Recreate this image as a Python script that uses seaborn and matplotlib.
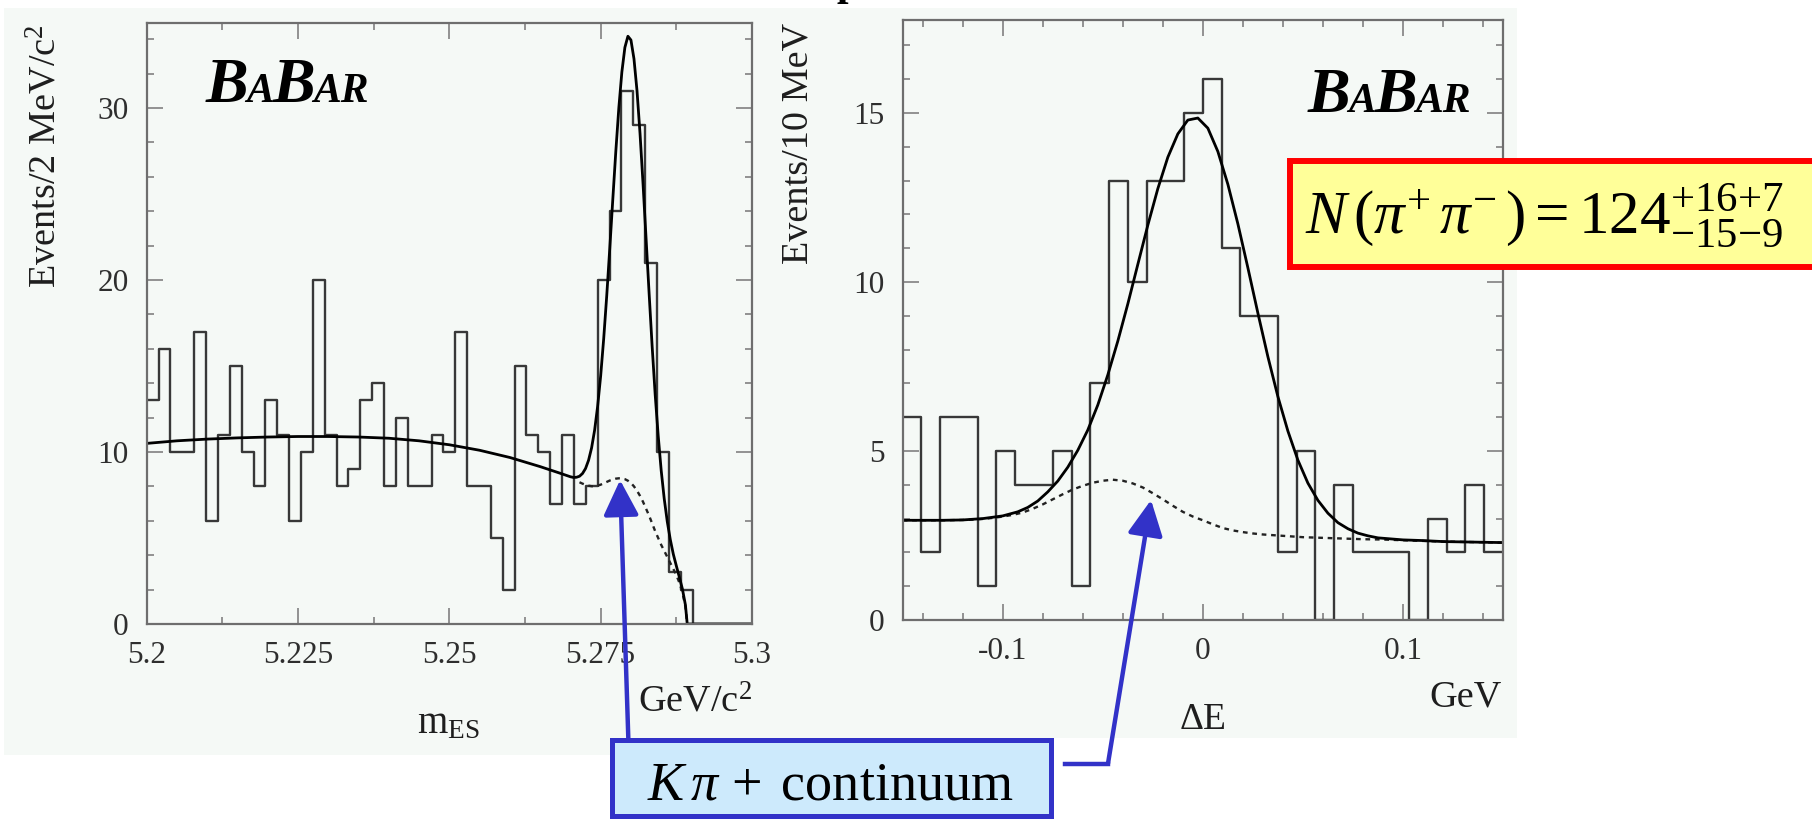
import numpy as np
import pandas as pd
import matplotlib
matplotlib.use("Agg")
import matplotlib.pyplot as plt
import seaborn as sns
from matplotlib.patches import Rectangle, FancyArrowPatch
from matplotlib.lines import Line2D
from matplotlib.ticker import FixedLocator, FixedFormatter, MultipleLocator

sns.set_theme(style="ticks")
plt.rcParams["font.family"] = ["Liberation Serif", "DejaVu Serif"]
plt.rcParams["mathtext.fontset"] = "custom"
plt.rcParams["mathtext.rm"] = "Liberation Serif"
plt.rcParams["mathtext.it"] = "Liberation Serif:italic"
plt.rcParams["mathtext.bf"] = "Liberation Serif:bold"

# ---------------- data ----------------
mes_range = [5.2, 5.3]
mes_counts = [13, 16, 10, 10, 17, 6, 11, 15, 10, 8,
              13, 11, 6, 10, 20, 11, 8, 9, 13, 14,
              8, 12, 8, 8, 11, 10, 17, 8, 8, 5,
              2, 15, 11, 10, 7, 11, 7, 8, 20, 24,
              31, 29, 21, 10, 3, 2, 0, 0, 0, 0, 0]
mes_fit_x = [5.200, 5.205, 5.210, 5.215, 5.220, 5.225, 5.230, 5.235, 5.240, 5.245,
             5.250, 5.255, 5.260, 5.265, 5.268, 5.2700, 5.2705, 5.2710, 5.2715, 5.2720,
             5.2725, 5.2730, 5.2735, 5.2740, 5.2745, 5.2750, 5.2755, 5.2760, 5.2765, 5.2770,
             5.2775, 5.2780, 5.2785, 5.2790, 5.2795, 5.2800, 5.2805, 5.2810, 5.2815, 5.2820,
             5.2825, 5.2830, 5.2835, 5.2840, 5.2845, 5.2850, 5.2855, 5.2860, 5.2865, 5.2870,
             5.2875, 5.2880, 5.2885, 5.2890, 5.2893, 5.3000]
mes_fit_y = [10.5, 10.65, 10.75, 10.82, 10.87, 10.9, 10.9, 10.87, 10.8, 10.65,
             10.42, 10.1, 9.68, 9.15, 8.8, 8.56, 8.52, 8.53, 8.59, 8.75,
             9.04, 9.52, 10.24, 11.27, 12.66, 14.43, 16.59, 19.08, 21.82, 24.67,
             27.47, 30.01, 32.09, 33.52, 34.17, 33.95, 32.86, 31.01, 28.52, 25.58,
             22.41, 19.24, 16.16, 13.36, 10.96, 8.92, 7.28, 5.96, 4.91, 4.06,
             3.38, 2.72, 2.04, 1.11, 0.0, 0.0]
mes_bkg_x = [5.2715, 5.2720, 5.2725, 5.2730, 5.2735, 5.2740, 5.2745, 5.2750, 5.2755, 5.2760,
             5.2765, 5.2770, 5.2775, 5.2780, 5.2785, 5.2790, 5.2795, 5.2800, 5.2805, 5.2810,
             5.2815, 5.2820, 5.2825, 5.2830, 5.2835, 5.2840, 5.2845, 5.2850, 5.2855, 5.2860,
             5.2865, 5.2870, 5.2875, 5.2880, 5.2885, 5.2890, 5.2893]
mes_bkg_y = [8.24, 8.16, 8.09, 8.04, 8.01, 8.01, 8.04, 8.1, 8.18, 8.26,
             8.34, 8.4, 8.45, 8.47, 8.46, 8.42, 8.33, 8.2, 8.0, 7.75,
             7.45, 7.1, 6.7, 6.3, 5.85, 5.4, 5.0, 4.6, 4.25, 3.9,
             3.55, 3.2, 2.85, 2.4, 1.85, 1.0, 0.0]
mes_ticks = [5.2, 5.225, 5.25, 5.275, 5.3]
mes_ticklabels = ["5.2", "5.225", "5.25", "5.275", "5.3"]
mes_yticks = [0, 10, 20, 30]
mes_yticklabels = ["0", "10", "20", "30"]

de_range = [-0.15, 0.15]
de_counts = [6, 2, 6, 6, 1, 5, 4, 4, 5, 1,
             7, 13, 10, 13, 13, 15, 16, 11, 9, 9,
             2, 5, 0, 4, 2, 2, 2, 0, 3, 2, 4, 2]
de_fit_x = [-0.15, -0.13, -0.12, -0.11, -0.10,
            -0.0925, -0.0875, -0.0825, -0.0775, -0.0725, -0.0675, -0.0625, -0.0575, -0.0525, -0.0475,
            -0.0425, -0.0375, -0.0325, -0.0275, -0.0225, -0.0175, -0.0125, -0.0075, -0.0025, 0.0025,
            0.0075, 0.0125, 0.0175, 0.0225, 0.0275, 0.0325, 0.0375, 0.0425, 0.0475, 0.0525,
            0.0575, 0.0625, 0.0675, 0.0725, 0.0775, 0.0825, 0.0875,
            0.10, 0.11, 0.12, 0.13, 0.14, 0.15]
de_fit_y = [2.95, 2.95, 2.96, 3.0, 3.08,
            3.20, 3.33, 3.52, 3.79, 4.11, 4.52, 5.02, 5.62, 6.36, 7.25,
            8.25, 9.35, 10.52, 11.68, 12.76, 13.69, 14.38, 14.79, 14.85, 14.55,
            13.86, 12.89, 11.72, 10.42, 9.08, 7.79, 6.61, 5.59, 4.73, 4.05,
            3.54, 3.16, 2.88, 2.70, 2.57, 2.49, 2.43,
            2.37, 2.35, 2.32, 2.31, 2.30, 2.29]
de_bkg_x = [-0.15, -0.14, -0.13, -0.12,
            -0.115, -0.11, -0.105, -0.10, -0.095, -0.09, -0.085, -0.08, -0.075, -0.07,
            -0.065, -0.06, -0.055, -0.05, -0.045, -0.04, -0.035, -0.03, -0.025, -0.02,
            -0.015, -0.01, -0.005, 0.0, 0.005, 0.01, 0.015, 0.02, 0.025, 0.03,
            0.035, 0.04, 0.045, 0.05, 0.055, 0.06, 0.065, 0.07,
            0.08, 0.09, 0.10, 0.11, 0.12, 0.13, 0.14, 0.15]
de_bkg_y = [2.95, 2.95, 2.95, 2.96,
            2.97, 2.99, 3.02, 3.06, 3.11, 3.18, 3.29, 3.42, 3.57, 3.72,
            3.86, 3.97, 4.06, 4.12, 4.15, 4.12, 4.04, 3.92, 3.75, 3.57,
            3.38, 3.2, 3.06, 2.95, 2.83, 2.72, 2.65, 2.6, 2.56, 2.53,
            2.51, 2.49, 2.47, 2.45, 2.44, 2.43, 2.42, 2.41,
            2.39, 2.38, 2.36, 2.34, 2.32, 2.31, 2.30, 2.29]
de_ticks = [-0.1, 0.0, 0.1]
de_ticklabels = ["-0.1", "0", "0.1"]
de_yticks = [0, 5, 10, 15]
de_yticklabels = ["0", "5", "10", "15"]

yield_label = r"$N\,(\pi^{+}\,\pi^{-}\,) = 124^{+16{+}7}_{-15{-}9}$"
bkg_label = r"$K\,\pi\,+\;\mathrm{continuum}$"

# ---------------- figure ----------------
W, H = 1812, 819
fig = plt.figure(figsize=(W / 100, H / 100), dpi=100)
fig.patch.set_facecolor("white")


def fx(px):
    return px / W


def fy(py):
    return 1 - py / H


BG = "#f5f9f6"
fig.add_artist(Rectangle((fx(4), fy(755)), fx(770) - fx(4), fy(8) - fy(755),
                         transform=fig.transFigure, facecolor=BG, edgecolor="none", zorder=-5))
fig.add_artist(Rectangle((fx(770), fy(738)), fx(1517) - fx(770), fy(8) - fy(738),
                         transform=fig.transFigure, facecolor=BG, edgecolor="none", zorder=-5))

ax1 = fig.add_axes([fx(146.7), fy(624), fx(752) - fx(146.7), fy(23) - fy(624)])
ax2 = fig.add_axes([fx(902.7), fy(620), fx(1503) - fx(902.7), fy(20) - fy(620)])

HIST_C = "#383838"


def draw_hist(ax, counts, rng):
    edges = np.linspace(rng[0], rng[1], len(counts) + 1)
    centers = 0.5 * (edges[:-1] + edges[1:])
    df = pd.DataFrame({"x": centers, "w": counts})
    sns.histplot(data=df, x="x", weights="w", bins=list(edges), element="step", fill=False,
                 color=HIST_C, linewidth=1.7, ax=ax)


draw_hist(ax1, mes_counts, mes_range)
sns.lineplot(x=mes_bkg_x, y=mes_bkg_y, sort=False, estimator=None, color="#222222",
             linewidth=1.7, linestyle=(0, (2.0, 2.0)), ax=ax1)
sns.lineplot(x=mes_fit_x, y=mes_fit_y, sort=False, estimator=None, color="black",
             linewidth=2.0, ax=ax1)

draw_hist(ax2, de_counts, de_range)
sns.lineplot(x=de_bkg_x, y=de_bkg_y, sort=False, estimator=None, color="#222222",
             linewidth=1.7, linestyle=(0, (2.0, 2.0)), ax=ax2)
sns.lineplot(x=de_fit_x, y=de_fit_y, sort=False, estimator=None, color="black",
             linewidth=2.0, ax=ax2)

ax1.set_xlim(*mes_range)
ax1.set_ylim(0, 34.94)
ax2.set_xlim(*de_range)
ax2.set_ylim(0, 17.75)

TICK_LAB = "#2e2e2e"
for ax, xt, xtl, yt, ytl, xminor, yminor in [
        (ax1, mes_ticks, mes_ticklabels, mes_yticks, mes_yticklabels, 0.0125, 2),
        (ax2, de_ticks, de_ticklabels, de_yticks, de_yticklabels, 0.02, 1)]:
    ax.set_facecolor(BG)
    ax.set_xlabel("")
    ax.set_ylabel("")
    ax.xaxis.set_major_locator(FixedLocator(xt))
    ax.xaxis.set_major_formatter(FixedFormatter(xtl))
    ax.yaxis.set_major_locator(FixedLocator(yt))
    ax.yaxis.set_major_formatter(FixedFormatter(ytl))
    ax.xaxis.set_minor_locator(MultipleLocator(xminor))
    ax.yaxis.set_minor_locator(MultipleLocator(yminor))
    ax.tick_params(which="both", direction="in", top=True, right=True,
                   color="#8a8a8a", width=1.3)
    ax.tick_params(which="major", length=11.5)
    ax.tick_params(which="minor", length=5)
    ax.tick_params(axis="x", which="major", labelsize=22.5, labelcolor=TICK_LAB, pad=12)
    ax.tick_params(axis="y", which="major", labelsize=22.5, labelcolor=TICK_LAB, pad=13)
    for s in ax.spines.values():
        s.set_color("#6e6e6e")
        s.set_linewidth(1.6)
        s.set_visible(True)

# axis labels (figure pixel placement)
TXT = "#1e1e1e"
fig.text(fx(46), fy(156), r"Events/2 MeV/c$^{2}$", rotation=90, ha="center", va="center",
         fontsize=27.5, color=TXT)
fig.text(fx(798), fy(143), "Events/10 MeV", rotation=90, ha="center", va="center",
         fontsize=27.5, color=TXT)
fig.text(fx(448), fy(733), r"$\mathrm{m}_{\mathrm{ES}}$", ha="center", va="baseline",
         fontsize=28, color=TXT)
fig.text(fx(751.7), fy(711.7), r"GeV/c$^{2}$", ha="right", va="baseline",
         fontsize=27.5, color=TXT)
fig.text(fx(1501.7), fy(706.7), "GeV", ha="right", va="baseline", fontsize=27.5, color=TXT)
fig.text(fx(1203), fy(729), "\u0394E", ha="center", va="baseline", fontsize=27,
         color=TXT)

# title fragment cut by the top edge (as in the reference)
fig.text(fx(848), fy(-5), "p", fontsize=30, fontweight="bold", ha="center", va="baseline",
         color="black")

# BABAR logos
renderer = fig.canvas.get_renderer()


def babar(x0, y0):
    x = x0
    for s, size in [("B", 46), ("A", 30), ("B", 46), ("AR", 30)]:
        t = fig.text(fx(x), fy(y0), s, fontsize=size, fontweight="bold", fontstyle="italic",
                     ha="left", va="baseline", color="black", zorder=5)
        bb = t.get_window_extent(renderer)
        x += bb.width - 2


babar(206, 102)
babar(1308, 112)

# yield box
fig.add_artist(Rectangle((fx(1290), fy(267)), fx(1840) - fx(1290), fy(161) - fy(267),
                         transform=fig.transFigure, facecolor="#ffff99", edgecolor="#ff0000",
                         linewidth=4.3, zorder=10))
fig.text(fx(1305), fy(233), yield_label, fontsize=44, ha="left", va="baseline",
         color="black", zorder=11)

# K pi + continuum box
BLUE = "#3232c8"
fig.add_artist(Rectangle((fx(611.5), fy(816)), fx(1050.5) - fx(611.5), fy(739.5) - fy(816),
                         transform=fig.transFigure, facecolor="#cdeafc", edgecolor=BLUE,
                         linewidth=3.6, zorder=10))
fig.text(fx(830), fy(800), bkg_label, fontsize=39, ha="center", va="baseline",
         color="black", zorder=11)

# arrows
inv = fig.transFigure.inverted()
tip1 = inv.transform(ax1.transData.transform((5.2782, 8.37)))
tip2 = inv.transform(ax2.transData.transform((-0.0259, 3.55)))
arrow_kw = dict(arrowstyle="-|>,head_length=1.08,head_width=0.54", mutation_scale=20,
                color=BLUE, linewidth=3.2, shrinkA=0, shrinkB=0, zorder=12,
                transform=fig.transFigure)
fig.add_artist(FancyArrowPatch((fx(628.3), fy(738)), tuple(tip1), **arrow_kw))
fig.add_artist(Line2D([fx(1065), fx(1108)], [fy(763.5), fy(763.5)], transform=fig.transFigure,
                      color=BLUE, linewidth=3.2, solid_capstyle="projecting", zorder=12))
fig.add_artist(FancyArrowPatch((fx(1108), fy(763.5)), tuple(tip2), **arrow_kw))

fig.savefig("out.png", dpi=100, facecolor="white")
